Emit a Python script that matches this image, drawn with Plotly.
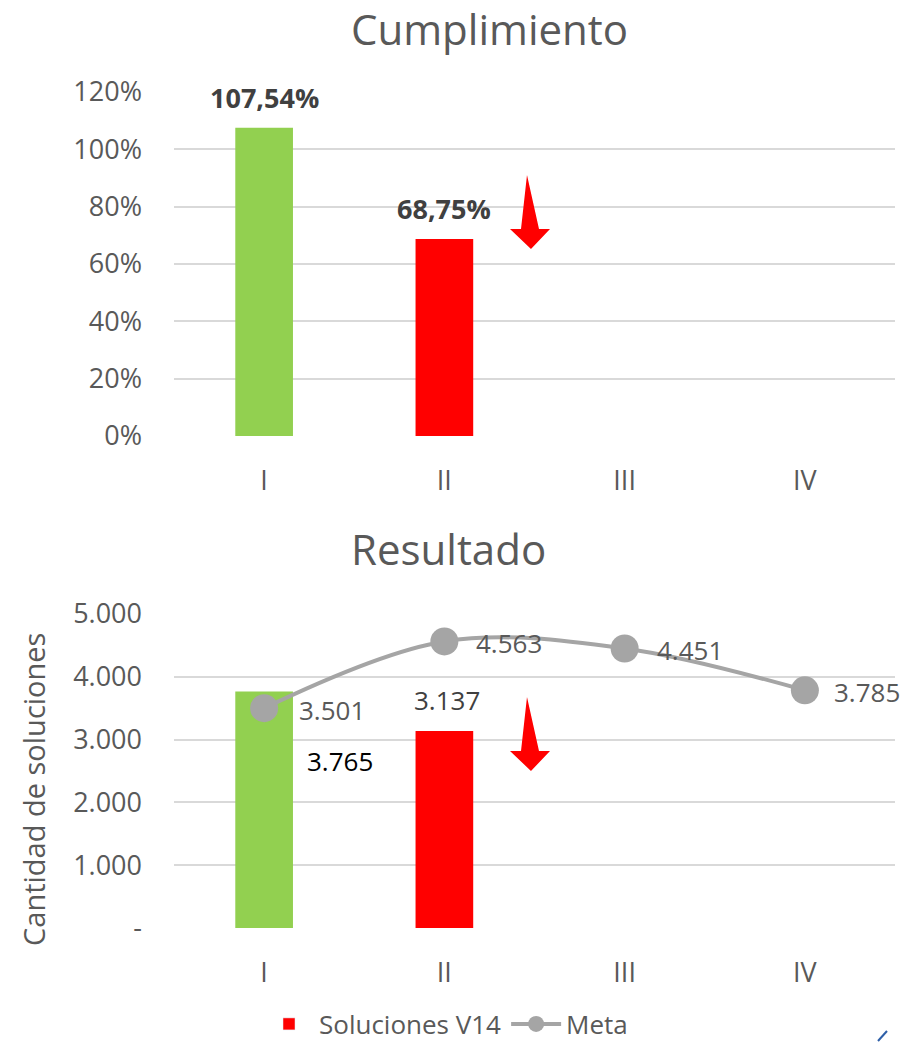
import plotly.graph_objects as go

# ---------------- data ----------------
quarters = ["I", "II", "III", "IV"]
cumplimiento = [107.54, 68.75]            # %
cumplimiento_labels = ["107,54%", "68,75%"]
soluciones = [3765, 3137]
soluciones_labels = ["3.765", "3.137"]
meta = [3501, 4563, 4451, 3785]
meta_labels = ["3.501", "4.563", "4.451", "3.785"]
bar_colors = ["#92D050", "#FF0000"]
pct_ticks = [0, 20, 40, 60, 80, 100, 120]
pct_ticktext = ["0%", "20%", "40%", "60%", "80%", "100%", "120%"]
sol_ticks = [0, 1000, 2000, 3000, 4000, 5000]
sol_ticktext = ["-", "1.000", "2.000", "3.000", "4.000", "5.000"]

W, H = 905, 1044
FONT = "Open Sans, sans-serif"
TXT = "#595959"
GRID = "#D9D9D9"


def X(px):
    return px / W


def Y(py):
    return 1 - py / H


fig = go.Figure()

# top chart bars
fig.add_trace(go.Bar(x=quarters[:len(cumplimiento)], y=cumplimiento,
                     marker=dict(color=bar_colors, line=dict(width=0)),
                     width=0.32, xaxis="x", yaxis="y", showlegend=False,
                     hoverinfo="skip"))

# bottom chart bars
fig.add_trace(go.Bar(x=quarters[:len(soluciones)], y=soluciones,
                     marker=dict(color=bar_colors, line=dict(width=0)),
                     width=0.32, xaxis="x2", yaxis="y2", showlegend=False,
                     name="Soluciones V14"))
# legend-only entry for bars
fig.add_trace(go.Bar(x=[None], y=[None], name="Soluciones V14",
                     marker=dict(color="#FF0000"), xaxis="x2", yaxis="y2"))
# meta line
fig.add_trace(go.Scatter(x=quarters, y=meta, mode="lines+markers", name="Meta",
                         line=dict(color="#A5A5A5", width=4, shape="spline", smoothing=1.0),
                         marker=dict(color="#A5A5A5", size=28),
                         xaxis="x2", yaxis="y2"))

annotations = []
# top bar labels
for q, v, t in zip(quarters, cumplimiento, cumplimiento_labels):
    annotations.append(dict(x=q, y=v, xref="x", yref="y", text="<b>%s</b>" % t,
                            showarrow=False, yshift=30, xanchor="center", yanchor="middle",
                            font=dict(family=FONT, size=27, color="#404040")))
# bottom bar labels
annotations.append(dict(x=quarters[0], y=soluciones[0], xref="x2", yref="y2",
                        text=soluciones_labels[0], showarrow=False,
                        xshift=76, yshift=-69, xanchor="center", yanchor="middle",
                        font=dict(family=FONT, size=26, color="#000000")))
annotations.append(dict(x=quarters[1], y=soluciones[1], xref="x2", yref="y2",
                        text=soluciones_labels[1], showarrow=False,
                        xshift=3, yshift=31, xanchor="center", yanchor="middle",
                        font=dict(family=FONT, size=26, color="#404040")))
# meta labels
meta_shift = [33, 30, 30, 27]
for q, v, t, s in zip(quarters, meta, meta_labels, meta_shift):
    annotations.append(dict(x=q, y=v, xref="x2", yref="y2", text=t,
                            showarrow=False, xanchor="left", yanchor="middle",
                            xshift=s, yshift=-2,
                            font=dict(family=FONT, size=26, color=TXT)))
# titles
annotations.append(dict(x=X(490), y=Y(28), xref="paper", yref="paper", text="Cumplimiento",
                        showarrow=False, xanchor="center", yanchor="middle",
                        font=dict(family=FONT, size=42, color=TXT)))
annotations.append(dict(x=X(448), y=Y(548), xref="paper", yref="paper", text="Resultado",
                        showarrow=False, xanchor="center", yanchor="middle",
                        font=dict(family=FONT, size=42, color=TXT)))
# y axis title
annotations.append(dict(x=X(33), y=Y(790), xref="paper", yref="paper",
                        text="Cantidad de soluciones", textangle=-90,
                        showarrow=False, xanchor="center", yanchor="middle",
                        font=dict(family=FONT, size=29, color=TXT)))


def arrow(dy):
    pts = [(527, 175), (539, 229), (550, 229), (531, 249), (510, 229), (521, 229)]
    return "M " + " L ".join("%f,%f" % (X(a), Y(b + dy)) for a, b in pts) + " Z"


shapes = [
    dict(type="path", path=arrow(0), xref="paper", yref="paper",
         fillcolor="#FF0000", line=dict(width=0)),
    dict(type="path", path=arrow(522), xref="paper", yref="paper",
         fillcolor="#FF0000", line=dict(width=0)),
    dict(type="line", xref="paper", yref="paper", x0=X(878), y0=Y(1041), x1=X(887), y1=Y(1031),
         line=dict(color="#2E5FA8", width=2)),
]

axis_common = dict(tickfont=dict(family=FONT, size=27, color=TXT), showline=False,
                   zeroline=False, ticks="", fixedrange=True, automargin=False)

fig.update_layout(
    width=W, height=H,
    margin=dict(l=0, r=0, t=0, b=0, autoexpand=False),
    paper_bgcolor="white", plot_bgcolor="white",
    barmode="overlay",
    xaxis=dict(domain=[X(174), X(895)], anchor="y", showgrid=False,
               categoryorder="array", categoryarray=quarters, range=[-0.5, 3.5],
               type="category", ticklabelstandoff=26, **axis_common),
    yaxis=dict(domain=[Y(436), Y(92)], anchor="x", range=[0, 120],
               tickvals=pct_ticks, ticktext=pct_ticktext, showgrid=True,
               gridcolor=GRID, gridwidth=1.5, ticklabelstandoff=31, **axis_common),
    xaxis2=dict(domain=[X(174), X(895)], anchor="y2", showgrid=False,
                categoryorder="array", categoryarray=quarters, range=[-0.5, 3.5],
                type="category", ticklabelstandoff=26, **axis_common),
    yaxis2=dict(domain=[Y(928), Y(614)], anchor="x2", range=[0, 5000],
                tickvals=sol_ticks, ticktext=sol_ticktext, showgrid=True,
                gridcolor=GRID, gridwidth=1.5, ticklabelstandoff=31, **axis_common),
    legend=dict(orientation="h", x=X(446), xanchor="center", y=Y(1024), yanchor="middle",
                font=dict(family=FONT, size=26, color=TXT), bgcolor="rgba(0,0,0,0)",
                itemwidth=50, tracegroupgap=0),
    annotations=annotations,
    shapes=shapes,
)

fig.write_html("out.html", config={"displayModeBar": False},
               post_script="document.body.style.margin='0';document.body.style.overflow='hidden';")
